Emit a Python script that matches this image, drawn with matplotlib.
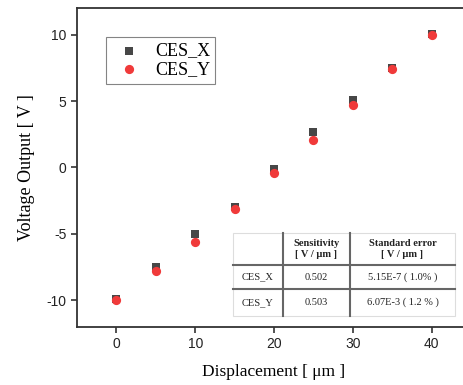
import matplotlib
matplotlib.use("Agg")
import matplotlib.pyplot as plt
from matplotlib.lines import Line2D
from matplotlib.patches import Rectangle

plt.rcParams["axes.unicode_minus"] = False

# data
displacement = [0, 5, 10, 15, 20, 25, 30, 35, 40]
ces_x = [-9.9, -7.45, -5.0, -2.95, -0.1, 2.7, 5.05, 7.5, 10.05]
ces_y = [-10.0, -7.8, -5.6, -3.1, -0.45, 2.05, 4.7, 7.4, 10.0]

table_cols = ["", "Sensitivity\n[ V / \u03bcm ]", "Standard error\n[ V / \u03bcm ]"]
table_rows = [["CES_X", "0.502", "5.15E-7 ( 1.0% )"],
              ["CES_Y", "0.503", "6.07E-3 ( 1.2 % )"]]

W, H = 464, 385
fig = plt.figure(figsize=(W / 100, H / 100), dpi=100)

def fx(px):
    return px / W

def fy(py):
    return 1 - py / H

ax = fig.add_axes([fx(77), fy(327), fx(471) - fx(77), fy(8) - fy(327)])
ax.scatter(displacement, ces_x, marker="s", s=34, color="#474747", label="CES_X", zorder=3, linewidths=0)
ax.scatter(displacement, ces_y, marker="o", s=44, color="#f03a3a", label="CES_Y", zorder=4, linewidths=0)

ax.set_xlim(-5, 45)
ax.set_ylim(-12, 12)
ax.set_xticks([0, 10, 20, 30, 40])
ax.set_yticks([-10, -5, 0, 5, 10])
ax.tick_params(direction="out", length=4, width=1.2, color="#333333", labelsize=10,
               labelcolor="#222222")
for lab in ax.get_xticklabels() + ax.get_yticklabels():
    lab.set_family("Liberation Sans")
for sp in ax.spines.values():
    sp.set_linewidth(1.3)
    sp.set_color("#333333")

ax.set_xlabel("Displacement [ \u03bcm ]", family="Liberation Serif", fontsize=12.5, labelpad=9)
ax.set_ylabel("Voltage Output [ V ]", family="Liberation Serif", fontsize=13, labelpad=8)

leg = ax.legend(loc="upper left", bbox_to_anchor=(fx(106 - 77) / (fx(471) - fx(77)), (327 - 37) / 319),
                prop={"family": "Liberation Serif", "size": 13}, frameon=True, fancybox=False,
                borderpad=0.3, handletextpad=0.4, labelspacing=0.1, handlelength=2.0,
                borderaxespad=0)
leg.get_frame().set_edgecolor("#666666")
leg.get_frame().set_linewidth(0.8)

# summary table drawn in figure pixels
tx0, tx1 = 233, 455
ty0, ty1 = 233, 316
col_edges = [233, 283, 350, 455]
row_edges = [233, 265, 289, 316]
fig.add_artist(Rectangle((fx(tx0), fy(ty1)), fx(tx1) - fx(tx0), fy(ty0) - fy(ty1),
                         facecolor="white", edgecolor="#dddddd", linewidth=0.8,
                         transform=fig.transFigure, zorder=5))
for xe in col_edges[1:-1]:
    fig.add_artist(Line2D([fx(xe), fx(xe)], [fy(ty0), fy(ty1)], color="#666666",
                          linewidth=1.5, transform=fig.transFigure, zorder=6))
for ye in row_edges[1:-1]:
    fig.add_artist(Line2D([fx(tx0), fx(tx1)], [fy(ye), fy(ye)], color="#666666",
                          linewidth=1.5, transform=fig.transFigure, zorder=6))
for j, txt in enumerate(table_cols):
    cx = (col_edges[j] + col_edges[j + 1]) / 2
    cy = (row_edges[0] + row_edges[1]) / 2
    fig.text(fx(cx), fy(cy), txt, ha="center", va="center", family="Liberation Serif",
             fontsize=7.5, fontweight="bold", zorder=7, linespacing=1.3, color="#222222")
for i, row in enumerate(table_rows):
    cy = (row_edges[i + 1] + row_edges[i + 2]) / 2
    for j, txt in enumerate(row):
        cx = (col_edges[j] + col_edges[j + 1]) / 2
        fig.text(fx(cx), fy(cy), txt, ha="center", va="center", family="Liberation Serif",
                 fontsize=7.5, zorder=7, color="#222222")

fig.savefig("out.png", dpi=100)
